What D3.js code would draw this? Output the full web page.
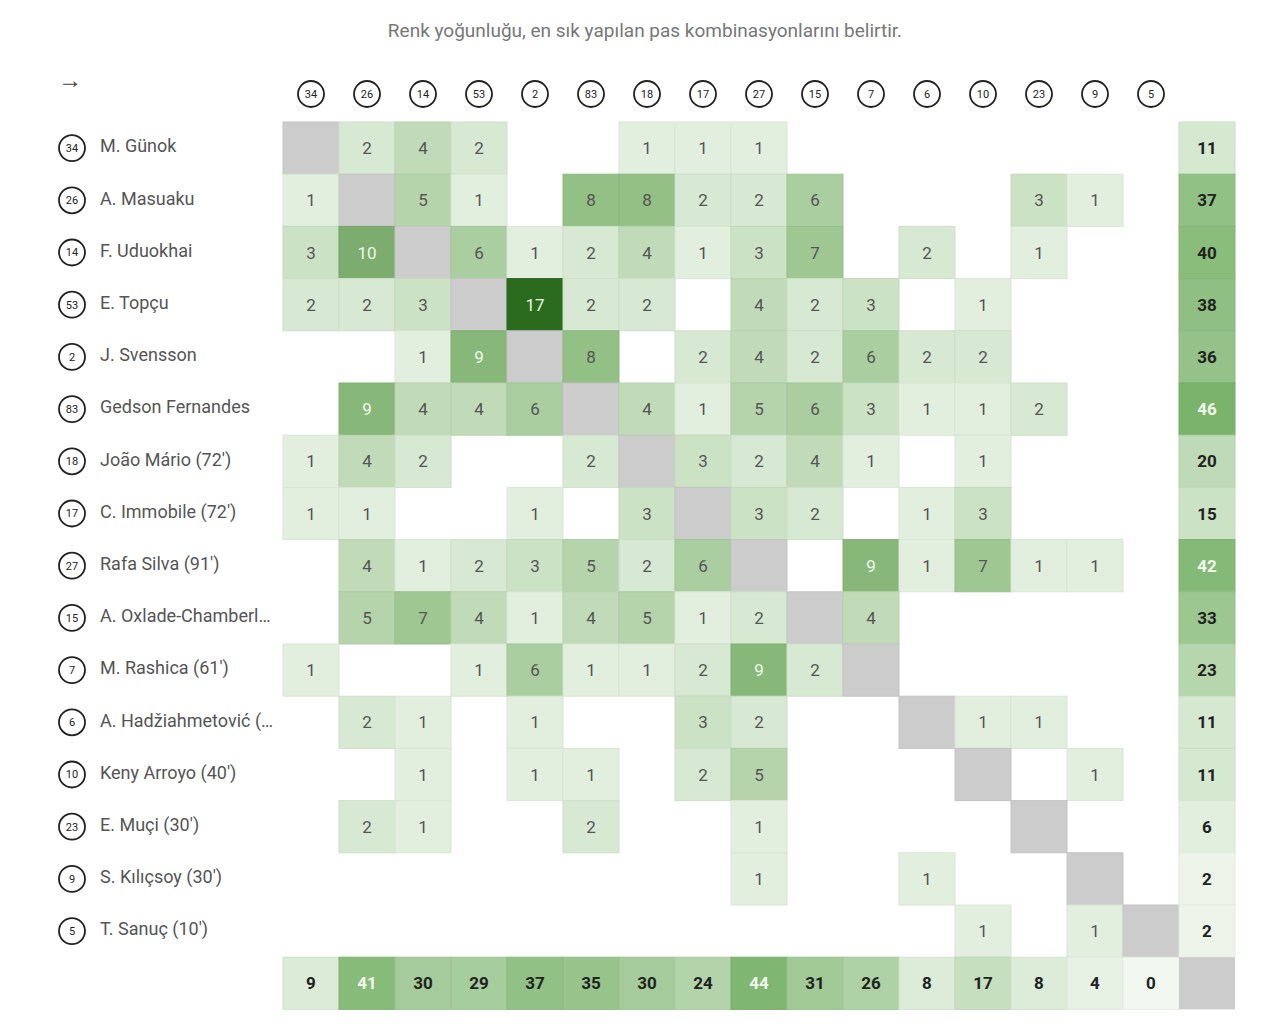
<!DOCTYPE html>
<html>
<head>
<meta charset="utf-8">
<script src="https://cdn.jsdelivr.net/npm/d3@7"></script>
<style>
  body { margin: 0; background: #fff; }
  svg { display: block; font-family: Roboto, "Noto Sans", sans-serif; }
</style>
</head>
<body>
<svg id="chart" width="1280" height="1027"></svg>
<script>
// Players (shirt number + name), same order for rows and columns
const numbers = ["34", "26", "14", "53", "2", "83", "18", "17", "27", "15", "7", "6", "10", "23", "9", "5"];
const names = [
    "M. Günok", "A. Masuaku", "F. Uduokhai", "E. Topçu", "J. Svensson",
    "Gedson Fernandes", "João Mário (72')", "C. Immobile (72')", "Rafa Silva (91')",
    "A. Oxlade-Chamberl…", "M. Rashica (61')", "A. Hadžiahmetović (…", "Keny Arroyo (40')",
    "E. Muçi (30')", "S. Kılıçsoy (30')", "T. Sanuç (10')"
];

// passes from row player to column player (diagonal = null)
const passes = [
    [null, 2, 4, 2, 0, 0, 1, 1, 1, 0, 0, 0, 0, 0, 0, 0],
    [1, null, 5, 1, 0, 8, 8, 2, 2, 6, 0, 0, 0, 3, 1, 0],
    [3, 10, null, 6, 1, 2, 4, 1, 3, 7, 0, 2, 0, 1, 0, 0],
    [2, 2, 3, null, 17, 2, 2, 0, 4, 2, 3, 0, 1, 0, 0, 0],
    [0, 0, 1, 9, null, 8, 0, 2, 4, 2, 6, 2, 2, 0, 0, 0],
    [0, 9, 4, 4, 6, null, 4, 1, 5, 6, 3, 1, 1, 2, 0, 0],
    [1, 4, 2, 0, 0, 2, null, 3, 2, 4, 1, 0, 1, 0, 0, 0],
    [1, 1, 0, 0, 1, 0, 3, null, 3, 2, 0, 1, 3, 0, 0, 0],
    [0, 4, 1, 2, 3, 5, 2, 6, null, 0, 9, 1, 7, 1, 1, 0],
    [0, 5, 7, 4, 1, 4, 5, 1, 2, null, 4, 0, 0, 0, 0, 0],
    [1, 0, 0, 1, 6, 1, 1, 2, 9, 2, null, 0, 0, 0, 0, 0],
    [0, 2, 1, 0, 1, 0, 0, 3, 2, 0, 0, null, 1, 1, 0, 0],
    [0, 0, 1, 0, 1, 1, 0, 2, 5, 0, 0, 0, null, 0, 1, 0],
    [0, 2, 1, 0, 0, 2, 0, 0, 1, 0, 0, 0, 0, null, 0, 0],
    [0, 0, 0, 0, 0, 0, 0, 0, 1, 0, 0, 1, 0, 0, null, 0],
    [0, 0, 0, 0, 0, 0, 0, 0, 0, 0, 0, 0, 1, 0, 1, null]
];

const rowTotals = [11, 37, 40, 38, 36, 46, 20, 15, 42, 33, 23, 11, 11, 6, 2, 2];
const colTotals = [9, 41, 30, 29, 37, 35, 30, 24, 44, 31, 26, 8, 17, 8, 4, 0];

const title = "Renk yoğunluğu, en sık yapılan pas kombinasyonlarını belirtir.";

const svg = d3.select("#chart");
const n = numbers.length;

// band scales, one extra slot for totals
const x = d3.scaleBand().domain(d3.range(n + 1)).range([283, 283 + 56 * (n + 1)]).padding(0);
const y = d3.scaleBand().domain(d3.range(n + 1)).range([122, 122 + 52.2 * (n + 1)]).padding(0);

const cellColor = d3.scaleLinear()
    .domain([0, 8, 17])
    .range(["#eef6eb", "#93c085", "#2b6b1d"]);
const totalColor = d3.scaleLinear()
    .domain([0, 46])
    .range(["#f2f8f0", "#7ab36b"]);

// title
svg.append("text")
    .attr("x", 645).attr("y", 37)
    .attr("text-anchor", "middle")
    .attr("font-size", 19)
    .attr("fill", "#777")
    .text(title);

svg.append("text")
    .attr("x", 70).attr("y", 88)
    .attr("text-anchor", "middle")
    .attr("font-size", 24)
    .attr("fill", "#444")
    .text("→");

// badge helper
function badge(g, cx, cy, num) {
    g.append("circle")
        .attr("cx", cx).attr("cy", cy).attr("r", 13)
        .attr("fill", "#fff")
        .attr("stroke", "#222")
        .attr("stroke-width", 1.8);
    g.append("text")
        .attr("x", cx).attr("y", cy)
        .attr("dy", "0.36em")
        .attr("text-anchor", "middle")
        .attr("font-size", 11)
        .attr("fill", "#222")
        .text(num);
}

// header badges
const header = svg.append("g");
numbers.forEach((num, i) => badge(header, x(i) + x.bandwidth() / 2, 94, num));

// row labels
const labels = svg.append("g");
names.forEach((name, i) => {
    const cy = y(i) + y.bandwidth() / 2;
    badge(labels, 72, cy, numbers[i]);
    labels.append("text")
        .attr("x", 100).attr("y", cy - 2)
        .attr("dy", "0.35em")
        .attr("font-size", 18)
        .attr("fill", "#555")
        .text(name);
});

// matrix cells
const cells = [];
passes.forEach((row, r) => row.forEach((v, c) => {
    if (v === null || v > 0) cells.push({ r, c, v });
}));

const grid = svg.append("g");
grid.selectAll("rect.cell")
    .data(cells)
    .enter()
    .append("rect")
    .attr("class", "cell")
    .attr("x", d => x(d.c))
    .attr("y", d => y(d.r))
    .attr("width", x.bandwidth())
    .attr("height", y.bandwidth())
    .attr("fill", d => d.v === null ? "#cccccc" : cellColor(d.v))
    .attr("stroke", d => d.v === null ? "#c4c4c4" : d3.color(cellColor(d.v)).darker(0.12))
    .attr("stroke-width", 1);

grid.selectAll("text.cell")
    .data(cells.filter(d => d.v !== null))
    .enter()
    .append("text")
    .attr("x", d => x(d.c) + x.bandwidth() / 2)
    .attr("y", d => y(d.r) + y.bandwidth() / 2)
    .attr("dy", "0.36em")
    .attr("text-anchor", "middle")
    .attr("font-size", 17)
    .attr("fill", d => d.v >= 9 ? "#eef6ea" : "#555")
    .text(d => d.v);

// totals column and row
const totals = rowTotals.map((v, i) => ({ r: i, c: n, v }))
    .concat(colTotals.map((v, i) => ({ r: n, c: i, v })));

const tg = svg.append("g");
tg.selectAll("rect")
    .data(totals)
    .enter()
    .append("rect")
    .attr("x", d => x(d.c))
    .attr("y", d => y(d.r))
    .attr("width", x.bandwidth())
    .attr("height", y.bandwidth())
    .attr("fill", d => totalColor(d.v))
    .attr("stroke", d => d3.color(totalColor(d.v)).darker(0.12))
    .attr("stroke-width", 1);

tg.append("rect")
    .attr("x", x(n)).attr("y", y(n))
    .attr("width", x.bandwidth()).attr("height", y.bandwidth())
    .attr("fill", "#cccccc");

tg.selectAll("text")
    .data(totals)
    .enter()
    .append("text")
    .attr("x", d => x(d.c) + x.bandwidth() / 2)
    .attr("y", d => y(d.r) + y.bandwidth() / 2)
    .attr("dy", "0.36em")
    .attr("text-anchor", "middle")
    .attr("font-size", 17)
    .attr("font-weight", "bold")
    .attr("fill", d => d.v > 40 ? "#f2f8ef" : "#222")
    .text(d => d.v);
</script>
</body>
</html>
